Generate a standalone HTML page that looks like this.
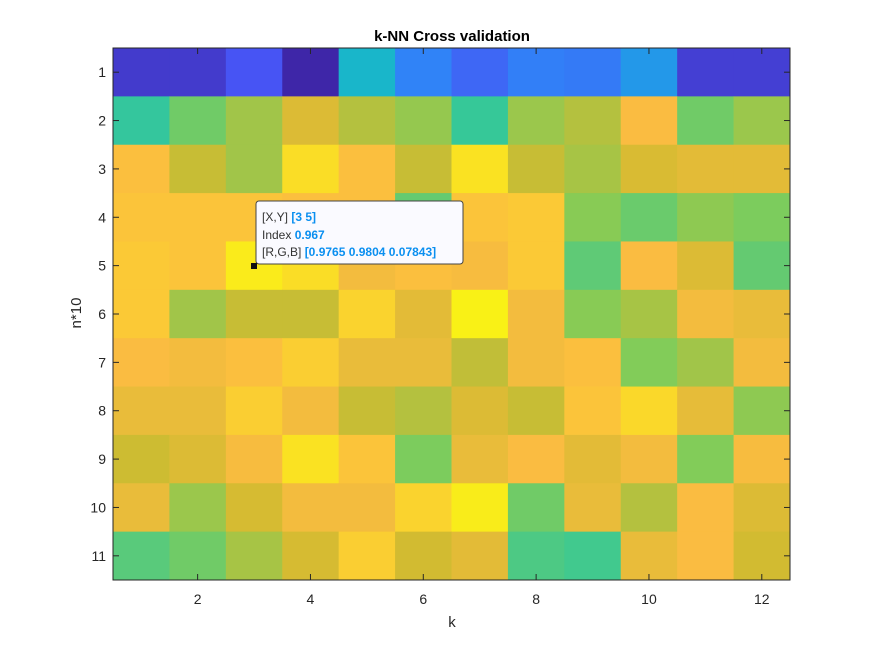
<!DOCTYPE html>
<html><head><meta charset="utf-8"><style>
body{margin:0;background:#fff;}
svg{display:block;font-family:"Liberation Sans",Arial,sans-serif;}
</style></head><body>
<svg id="chart" width="871" height="652" viewBox="0 0 871 652">
<rect width="871" height="652" fill="#fff"/>
<text x="452" y="41" text-anchor="middle" font-size="15" font-weight="bold" fill="#000">k-NN Cross validation</text>
<g id="cells"></g>
<g id="axes"></g>
<text x="452" y="627" text-anchor="middle" font-size="15" fill="#262626">k</text>
<text transform="translate(81,313) rotate(-90)" text-anchor="middle" font-size="15" fill="#262626">n*10</text>
<g>
<rect x="256" y="201" width="207" height="63" rx="3" fill="#fafaff" stroke="#444" stroke-width="1"/>
<rect x="251" y="263" width="6" height="6" fill="#111"/>
<text x="262" y="221" font-size="12" fill="#333">[X,Y] <tspan fill="#0a8ff0" font-weight="bold">[3 5]</tspan></text>
<text x="262" y="239" font-size="12" fill="#333">Index <tspan fill="#0a8ff0" font-weight="bold">0.967</tspan></text>
<text x="262" y="256" font-size="12" fill="#333">[R,G,B] <tspan fill="#0a8ff0" font-weight="bold">[0.9765 0.9804 0.07843]</tspan></text>
</g>
</svg>
<script>
const kValues=[1,2,3,4,5,6,7,8,9,10,11,12];
const nValues=[1,2,3,4,5,6,7,8,9,10,11];
const row1=[.06,.06,.13,.0,.39,.23,.17,.22,.21,.29,.07,.07];
const row2=[.48,.59,.67,.78,.70,.65,.49,.66,.70,.87,.59,.66];
const row3=[.88,.73,.67,.94,.88,.73,.95,.73,.68,.77,.80,.80];
const row4=[.89,.89,.89,.88,.88,.57,.89,.90,.63,.58,.64,.61];
const row5=[.90,.89,.967,.94,.85,.88,.86,.90,.56,.87,.78,.57];
const row6=[.90,.67,.73,.73,.92,.80,.98,.85,.63,.68,.85,.82];
const row7=[.87,.85,.88,.91,.82,.82,.72,.85,.88,.62,.67,.85];
const row8=[.82,.82,.91,.85,.73,.70,.78,.73,.89,.93,.81,.64];
const row9=[.74,.78,.86,.95,.89,.61,.82,.87,.80,.85,.62,.86];
const row10=[.82,.66,.76,.85,.85,.92,.97,.59,.82,.70,.87,.78];
const row11=[.55,.59,.68,.76,.91,.75,.80,.53,.51,.82,.87,.75];
const grid=[row1,row2,row3,row4,row5,row6,row7,row8,row9,row10,row11];
const xTicks=[2,4,6,8,10,12];
const yTicks=[1,2,3,4,5,6,7,8,9,10,11];

const L=113,R=790,T=48,B=580;
const cw=(R-L)/kValues.length, ch=(B-T)/nValues.length;
const xPos=k=>L+(k-0.5)*cw;
const yPos=n=>T+(n-0.5)*ch;
const stops=[[0,[62,38,168]],[0.125,[72,82,244]],[0.238,[46,135,247]],[0.365,[18,177,214]],[0.492,[55,200,151]],[0.619,[129,204,89]],[0.746,[209,187,48]],[0.873,[251,188,65]],[1,[249,251,14]]];
function parula(v){v=Math.max(0,Math.min(1,v));for(let i=1;i<stops.length;i++){if(v<=stops[i][0]){const a=stops[i-1],b=stops[i];const t=(v-a[0])/(b[0]-a[0]);const c=a[1].map((x,j)=>Math.round(x+(b[1][j]-x)*t));return `rgb(${c})`;}}return 'rgb(249,251,14)';}
const NS='http://www.w3.org/2000/svg';
const cells=document.getElementById('cells');
grid.forEach((row,ri)=>{row.forEach((v,ci)=>{
 const r=document.createElementNS(NS,'rect');
 r.setAttribute('x',xPos(kValues[ci])-cw/2);r.setAttribute('y',yPos(nValues[ri])-ch/2);
 r.setAttribute('width',cw+0.5);r.setAttribute('height',ch+0.5);r.setAttribute('fill',parula(v));
 
 
 cells.appendChild(r);});});
const axes=document.getElementById('axes');
function add(tag,attrs,name,txt){const e=document.createElementNS(NS,tag);for(const k in attrs)e.setAttribute(k,attrs[k]);
 
 
 if(txt!==undefined)e.textContent=txt;axes.appendChild(e);return e;}
add('rect',{x:L,y:T,width:R-L,height:B-T,fill:'none',stroke:'#262626','stroke-width':1},'plot-frame');
xTicks.forEach(k=>{const x=xPos(k);
 add('line',{x1:x,x2:x,y1:B,y2:B-6,stroke:'#262626'},'x-tick');
 add('line',{x1:x,x2:x,y1:T,y2:T+6,stroke:'#262626'},'x-tick-top');
 add('text',{x:x,y:604,'text-anchor':'middle','font-size':14,fill:'#262626'},'x-tick-label',String(k));});
yTicks.forEach(n=>{const y=yPos(n);
 add('line',{x1:L,x2:L+6,y1:y,y2:y,stroke:'#262626'},'y-tick');
 add('line',{x1:R,x2:R-6,y1:y,y2:y,stroke:'#262626'},'y-tick-right');
 add('text',{x:106,y:y+5,'text-anchor':'end','font-size':14,fill:'#262626'},'y-tick-label',String(n));});
</script>
</body></html>
